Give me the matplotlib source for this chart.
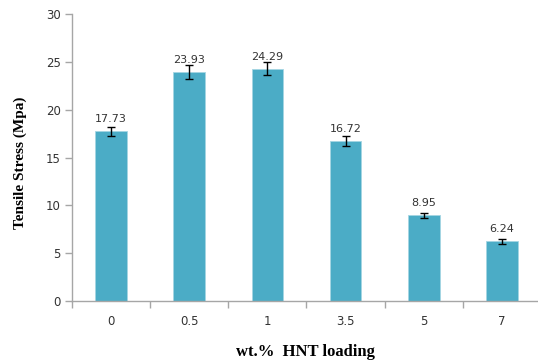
import matplotlib
matplotlib.use("Agg")
import matplotlib.pyplot as plt
import numpy as np

categories = ["0", "0.5", "1", "3.5", "5", "7"]
values = [17.73, 23.93, 24.29, 16.72, 8.95, 6.24]
errors = [0.5, 0.73, 0.7, 0.55, 0.28, 0.25]
labels = ["17.73", "23.93", "24.29", "16.72", "8.95", "6.24"]

fig = plt.figure(figsize=(5.38, 3.64), dpi=100)
ax = fig.add_axes([0.1338, 0.1731, 1.0056 - 0.1338, 0.9615 - 0.1731])

x = np.arange(len(categories))
ax.bar(x, values, width=0.405, color="#4BACC6", edgecolor="#A5D5E3", linewidth=0.6, zorder=2)
ax.errorbar(x, values, yerr=errors, fmt="none", ecolor="black", elinewidth=1.0,
            capsize=3, capthick=1.0, zorder=3)
for xi, v, lab in zip(x, values, labels):
    ax.annotate(lab, (xi, v), xytext=(0, 5), textcoords="offset points",
                ha="center", va="bottom", fontsize=8, color="#333333", zorder=4)

ax.set_xlim(-0.5, 5.5)
ax.set_ylim(0, 30)
ax.set_yticks([0, 5, 10, 15, 20, 25, 30])
ax.set_xticks(x)
ax.set_xticklabels(categories)
ax.set_xticks(np.arange(-0.5, 6.0, 1.0), minor=True)
ax.tick_params(axis="x", which="major", length=0, pad=10, labelsize=8.5, labelcolor="#333333")
ax.tick_params(axis="x", which="minor", length=5, width=1, color="#A6A6A6", direction="out")
ax.tick_params(axis="y", length=5, width=1, color="#A6A6A6", direction="out", pad=3,
               labelsize=8.5, labelcolor="#333333")

for s in ["top", "right"]:
    ax.spines[s].set_visible(False)
for s in ["left", "bottom"]:
    ax.spines[s].set_color("#A6A6A6")
    ax.spines[s].set_linewidth(1)

fig.text(0.037, 0.552, "Tensile Stress (Mpa)", rotation=90, ha="center", va="center",
         fontsize=11, fontweight="bold", family="Liberation Serif")
fig.text(0.567, 0.033, "wt.%  HNT loading", ha="center", va="center",
         fontsize=12, fontweight="bold", family="Liberation Serif")

fig.savefig("out.png", dpi=100)
